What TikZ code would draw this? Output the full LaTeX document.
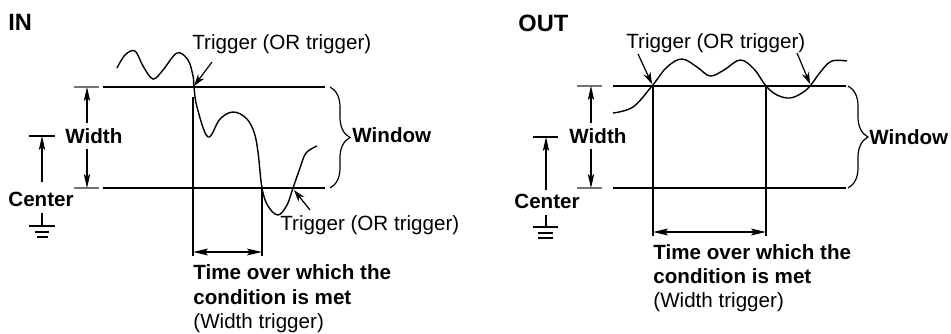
\documentclass[tikz,border=0pt]{standalone}
\usepackage{fontspec}
\setmainfont{Liberation Sans}
\usetikzlibrary{arrows.meta,decorations.pathreplacing}

\begin{document}
\begin{tikzpicture}[
  x=0.5pt, y=-0.5pt,
  every node/.style={inner sep=0pt, font=\fontsize{10.3}{12.2}\selectfont},
  heading/.style={anchor=base west, font=\fontsize{11.8}{14}\selectfont\bfseries},
  txt/.style={anchor=base west},
  boldtxt/.style={anchor=base west, font=\fontsize{10.3}{12.2}\selectfont\bfseries},
  winline/.style={line width=1.15pt},
  extline/.style={line width=0.6pt, black!55},
  thinline/.style={line width=0.6pt},
  signal/.style={line width=0.7pt},
  dimend/.style={thinline, -{Stealth[length=7pt,width=3.2pt,inset=1.5pt]}},
  dimboth/.style={thinline, {Stealth[length=7.5pt,width=3.4pt,inset=1.5pt]}-{Stealth[length=7.5pt,width=3.4pt,inset=1.5pt]}},
  trigarrow/.style={thinline, -{Stealth[length=6pt,width=3.8pt]}},
  winbrace/.style={thinline, decorate, decoration={brace, amplitude=10pt}}
]
  \useasboundingbox (0,0) rectangle (951,333);

  % ---------- IN ----------
  \node[heading] (inHead) at (8,30) {IN};

  % Window lines
  \draw[extline] (74,87) -- (99,87);
  \draw[extline] (74,188) -- (99,188);
  \draw[winline] (103,87) -- (325,87);
  \draw[winline] (103,188) -- (325,188);

  % Width
  \coordinate (inWt) at (87,87);
  \coordinate (inWb) at (87,188);
  \node[txt, inner ysep=2.5pt] (inWidth) at (65,143) {\bfseries Width};
  \draw[dimend] (inWidth.north -| inWt) -- (inWt);
  \draw[dimend] (inWidth.south -| inWb) -- (inWb);

  % Center and ground
  \node[boldtxt] (inCenter) at (8,206) {Center};
  \coordinate (inCt) at (42,136);
  \coordinate (inCb) at (42,182);
  \draw[thinline] (29,136) -- (55,136);
  \draw[dimend] (inCb) -- (inCt);
  \draw[thinline] (42,213) -- (42,226);
  \draw[thinline] (29,226) -- (55,226);
  \draw[thinline] (35,232) -- (49,232);
  \draw[thinline] (37,237) -- (48,237);

  % Window brace
  \draw[winbrace] (330,87) -- (330,188);
  \node[boldtxt] (inWindow) at (352,142) {Window};

  % Signal
  \draw[signal] plot[smooth, tension=0.6] coordinates {
    (117,68) (125,55) (135,51) (143,66) (153,79) (163,70) (177,53) (188,60)
    (193,76) (194,87) (197,107) (208,137) (220,119) (233,112) (246,118)
    (254,132) (258,152) (262,188) (268,206) (278,215) (287,205) (293,188)
    (300,168) (306,153) (317,146)};

  % Triggers
  \coordinate (inX1) at (194,86);
  \coordinate (inX2) at (294,190);
  \coordinate (inT1) at (212,62);
  \coordinate (inT2) at (310,210);
  \node[txt] (inTrigA) at (192,49) {Trigger (OR trigger)};
  \node[txt] (inTrigB) at (280,230) {Trigger (OR trigger)};
  \draw[trigarrow] (inT1) -- (inX1);
  \draw[trigarrow] (inT2) -- (inX2);

  % Time
  \coordinate (inL1) at (193,252);
  \coordinate (inL2) at (262,252);
  \draw[thinline] (193,97) -- (193,256);
  \draw[thinline] (262,188) -- (262,256);
  \draw[dimboth] (inL1) -- (inL2);
  \node[boldtxt] (inTime) at (193,279) {Time over which the};
  \node[boldtxt] (inCond) at (193,304) {condition is met};
  \node[txt] (inNote) at (193,328) {(Width trigger)};

  % ---------- OUT ----------
  \node[heading] (outHead) at (518,31) {OUT};

  % Window lines
  \draw[extline] (577,86) -- (602,86);
  \draw[extline] (577,188) -- (602,188);
  \draw[winline] (613,86) -- (846,86);
  \draw[winline] (613,188) -- (846,188);

  % Width
  \coordinate (outWt) at (591,86);
  \coordinate (outWb) at (591,188);
  \node[txt, inner ysep=2.5pt] (outWidth) at (569,143) {\bfseries Width};
  \draw[dimend] (outWidth.north -| outWt) -- (outWt);
  \draw[dimend] (outWidth.south -| outWb) -- (outWb);

  % Center and ground
  \node[boldtxt] (outCenter) at (514,208) {Center};
  \coordinate (outCt) at (546,137);
  \coordinate (outCb) at (546,190);
  \draw[thinline] (533,137) -- (558,137);
  \draw[dimend] (outCb) -- (outCt);
  \draw[thinline] (546,215) -- (546,227);
  \draw[thinline] (533,227) -- (558,227);
  \draw[thinline] (538,233) -- (553,233);
  \draw[thinline] (538,238) -- (553,238);

  % Window brace
  \draw[winbrace] (848,86) -- (848,188);
  \node[boldtxt] (outWindow) at (869,144) {Window};

  % Signal
  \draw[signal] plot[smooth, tension=0.6] coordinates {
    (613,113) (633,107) (652,86) (667,67) (682,59) (697,67) (710,76)
    (724,70) (740,60) (754,69) (766,86) (777,95) (790,98) (802,93)
    (810,86) (822,70) (832,61) (847,61)};

  % Triggers
  \coordinate (outX1) at (652,84);
  \coordinate (outX2) at (810,84);
  \coordinate (outT1) at (638,54);
  \coordinate (outT2) at (797,53);
  \node[txt] (outTrig) at (626,48) {Trigger (OR trigger)};
  \draw[trigarrow] (outT1) -- (outX1);
  \draw[trigarrow] (outT2) -- (outX2);

  % Time
  \coordinate (outL1) at (653,232);
  \coordinate (outL2) at (766,232);
  \draw[thinline] (653,86) -- (653,236);
  \draw[thinline] (766,86) -- (766,236);
  \draw[dimboth] (outL1) -- (outL2);
  \node[boldtxt] (outTime) at (653,259) {Time over which the};
  \node[boldtxt] (outCond) at (653,283) {condition is met};
  \node[txt] (outNote) at (653,307) {(Width trigger)};

\end{tikzpicture}
\end{document}
